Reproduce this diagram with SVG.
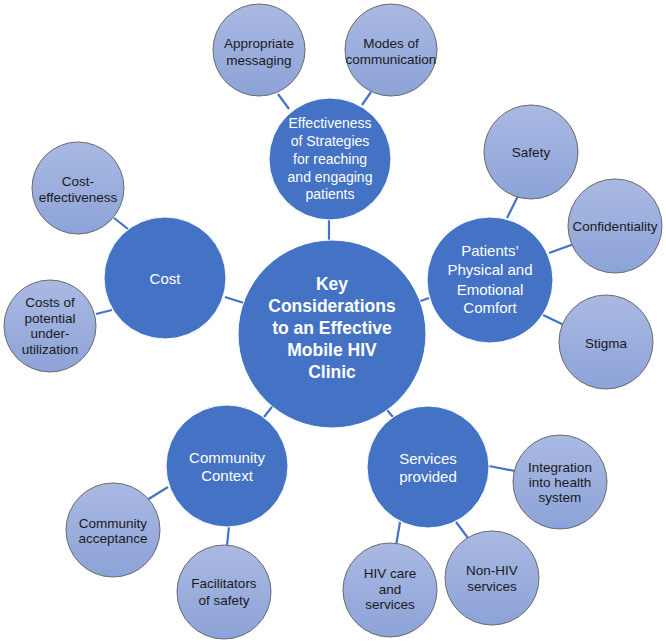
<svg xmlns="http://www.w3.org/2000/svg" width="666" height="642" viewBox="0 0 666 642">
<defs>
<linearGradient id="g" x1="0" y1="0" x2="0" y2="1">
<stop offset="0" stop-color="#AAB9E2"/>
<stop offset="1" stop-color="#8CA3D8"/>
</linearGradient>
<style>
.main{fill:#4472C4;stroke:#ffffff;stroke-width:1}
.sub{fill:url(#g);stroke:#6b6b6b;stroke-width:1}
.c{stroke:#4472C4;stroke-width:2.2;fill:none}
text{font-family:"Liberation Sans",Arial,sans-serif;text-anchor:middle;dominant-baseline:central}
.wt{fill:#ffffff;font-size:15px}
.wm{fill:#ffffff;font-size:14px}
.kt{fill:#ffffff;font-size:17.5px;font-weight:bold}
.dt{fill:#1a1a1a;font-size:13.5px}
</style>
</defs>
<rect width="666" height="642" fill="#ffffff"/>
<g id="connectors">
<line class="c" x1="278" y1="94" x2="289" y2="109"/>
<line class="c" x1="371" y1="92" x2="362" y2="105"/>
<line class="c" x1="329" y1="218" x2="329" y2="242"/>
<line class="c" x1="114" y1="218" x2="128" y2="229"/>
<line class="c" x1="96" y1="314" x2="112" y2="310"/>
<line class="c" x1="225" y1="297" x2="244" y2="303"/>
<line class="c" x1="518" y1="196" x2="507" y2="218"/>
<line class="c" x1="574" y1="244" x2="549" y2="253"/>
<line class="c" x1="543" y1="315" x2="564" y2="325"/>
<line class="c" x1="415" y1="303" x2="429" y2="298"/>
<line class="c" x1="275" y1="403" x2="264" y2="417"/>
<line class="c" x1="168" y1="487" x2="147" y2="500"/>
<line class="c" x1="229" y1="526" x2="227" y2="546"/>
<line class="c" x1="382" y1="404" x2="393" y2="417"/>
<line class="c" x1="489" y1="466" x2="515" y2="471"/>
<line class="c" x1="456" y1="522" x2="468" y2="538"/>
<line class="c" x1="400" y1="522" x2="396" y2="546"/>
</g>
<g id="center">
<circle class="main" cx="332" cy="334" r="94"/>
<text class="kt" x="332" y="284">Key</text>
<text class="kt" x="332" y="306">Considerations</text>
<text class="kt" x="332" y="328">to an Effective</text>
<text class="kt" x="332" y="350">Mobile HIV</text>
<text class="kt" x="332" y="372">Clinic</text>
</g>
<g id="effectiveness">
<circle class="main" cx="330" cy="159" r="61"/>
<text class="wm" x="330" y="123">Effectiveness</text>
<text class="wm" x="330" y="141">of Strategies</text>
<text class="wm" x="330" y="159">for reaching</text>
<text class="wm" x="330" y="177">and engaging</text>
<text class="wm" x="330" y="194">patients</text>
</g>
<g id="appropriate">
<circle class="sub" cx="259" cy="50" r="46"/>
<text class="dt" x="259" y="43">Appropriate</text>
<text class="dt" x="259" y="60">messaging</text>
</g>
<g id="modes">
<circle class="sub" cx="391" cy="50" r="46"/>
<text class="dt" x="391" y="43">Modes of</text>
<text class="dt" x="391" y="59">communication</text>
</g>
<g id="cost">
<circle class="main" cx="165" cy="278" r="61"/>
<text class="wt" x="165" y="278">Cost</text>
</g>
<g id="costeff">
<circle class="sub" cx="78" cy="188" r="46"/>
<text class="dt" x="78" y="181">Cost-</text>
<text class="dt" x="78" y="197">effectiveness</text>
</g>
<g id="costpot">
<circle class="sub" cx="50" cy="326" r="46"/>
<text class="dt" x="50" y="302">Costs of</text>
<text class="dt" x="50" y="318">potential</text>
<text class="dt" x="50" y="333">under-</text>
<text class="dt" x="50" y="349">utilization</text>
</g>
<g id="patients">
<circle class="main" cx="490" cy="280" r="63"/>
<text class="wt" x="490" y="250">Patients’</text>
<text class="wt" x="490" y="269">Physical and</text>
<text class="wt" x="490" y="289">Emotional</text>
<text class="wt" x="490" y="307">Comfort</text>
</g>
<g id="safety">
<circle class="sub" cx="531" cy="152" r="47"/>
<text class="dt" x="531" y="152">Safety</text>
</g>
<g id="confidentiality">
<circle class="sub" cx="615" cy="226" r="47"/>
<text class="dt" x="615" y="226">Confidentiality</text>
</g>
<g id="stigma">
<circle class="sub" cx="606" cy="342" r="47"/>
<text class="dt" x="606" y="343">Stigma</text>
</g>
<g id="community">
<circle class="main" cx="227" cy="466" r="61"/>
<text class="wt" x="227" y="457">Community</text>
<text class="wt" x="227" y="475">Context</text>
</g>
<g id="acceptance">
<circle class="sub" cx="113" cy="530" r="47"/>
<text class="dt" x="113" y="523">Community</text>
<text class="dt" x="113" y="538">acceptance</text>
</g>
<g id="facilitators">
<circle class="sub" cx="224" cy="592" r="47"/>
<text class="dt" x="224" y="583">Facilitators</text>
<text class="dt" x="224" y="600">of safety</text>
</g>
<g id="services">
<circle class="main" cx="428" cy="467" r="61"/>
<text class="wt" x="428" y="458">Services</text>
<text class="wt" x="428" y="476">provided</text>
</g>
<g id="integration">
<circle class="sub" cx="560" cy="482" r="47"/>
<text class="dt" x="560" y="467">Integration</text>
<text class="dt" x="560" y="482">into health</text>
<text class="dt" x="560" y="497">system</text>
</g>
<g id="nonhiv">
<circle class="sub" cx="492" cy="578" r="47"/>
<text class="dt" x="492" y="570">Non-HIV</text>
<text class="dt" x="492" y="586">services</text>
</g>
<g id="hivcare">
<circle class="sub" cx="390" cy="590" r="47"/>
<text class="dt" x="390" y="573">HIV care</text>
<text class="dt" x="390" y="589">and</text>
<text class="dt" x="390" y="604">services</text>
</g>
</svg>
